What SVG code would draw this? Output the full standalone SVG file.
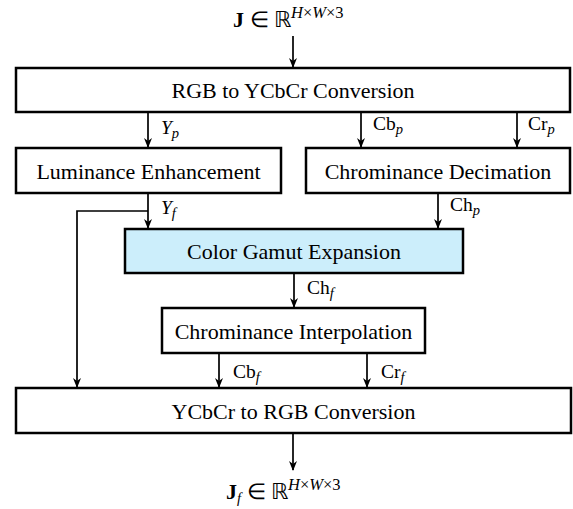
<svg xmlns="http://www.w3.org/2000/svg" width="573" height="509" viewBox="0 0 573 509">
<style>
.box{fill:#fff;stroke:#000;stroke-width:2.5}
.blue{fill:#CCEEFB}
.t{font-size:22px;fill:#000;text-anchor:middle}
.lb{font-size:19.5px;fill:#000}
.it{font-style:italic}
.sub{font-size:14.5px;font-style:italic}
.sup{font-size:16.5px}
.ln{fill:none;stroke:#000;stroke-width:1.7}
</style>
<defs>
<marker id="ah" markerWidth="10" markerHeight="12" refX="9" refY="5" orient="auto" markerUnits="userSpaceOnUse">
<path d="M0,1 L10,5 L0,9 L3,5 Z" fill="#000"/>
</marker>
</defs>
<rect width="573" height="509" fill="#fff"/>
<g id="connectors" font-family="Liberation Serif, serif">
<line class="ln" x1="293" y1="36" x2="293" y2="67" marker-end="url(#ah)"/>
<line class="ln" x1="148" y1="113" x2="148" y2="147" marker-end="url(#ah)"/>
<line class="ln" x1="361" y1="113" x2="361" y2="147" marker-end="url(#ah)"/>
<line class="ln" x1="517" y1="113" x2="517" y2="147" marker-end="url(#ah)"/>
<line class="ln" x1="148" y1="194" x2="148" y2="228" marker-end="url(#ah)"/>
<polyline class="ln" points="148,211 77,211 77,387" marker-end="url(#ah)"/>
<line class="ln" x1="438" y1="194" x2="438" y2="228" marker-end="url(#ah)"/>
<line class="ln" x1="294" y1="274" x2="294" y2="307" marker-end="url(#ah)"/>
<line class="ln" x1="219" y1="354" x2="219" y2="387" marker-end="url(#ah)"/>
<line class="ln" x1="367" y1="354" x2="367" y2="387" marker-end="url(#ah)"/>
<line class="ln" x1="293" y1="434" x2="293" y2="470" marker-end="url(#ah)"/>
<text class="lb" x="161" y="134"><tspan class="it">Y</tspan><tspan class="sub" dy="4">p</tspan></text>
<text class="lb" x="373" y="130">Cb<tspan class="sub" dy="4">p</tspan></text>
<text class="lb" x="528" y="130">Cr<tspan class="sub" dy="4">p</tspan></text>
<text class="lb" x="161" y="214"><tspan class="it">Y</tspan><tspan class="sub" dy="4">f</tspan></text>
<text class="lb" x="450" y="211">Ch<tspan class="sub" dy="4">p</tspan></text>
<text class="lb" x="307" y="294">Ch<tspan class="sub" dy="4">f</tspan></text>
<text class="lb" x="233" y="378">Cb<tspan class="sub" dy="4">f</tspan></text>
<text class="lb" x="381" y="378">Cr<tspan class="sub" dy="4">f</tspan></text>
</g>
<g id="input" font-family="Liberation Serif, serif">
<text class="lb" x="233" y="27" style="font-size:22px"><tspan font-weight="bold">J</tspan> ∈ ℝ<tspan dy="-9" class="sup it">H</tspan><tspan class="sup">×</tspan><tspan class="sup it">W</tspan><tspan class="sup">×3</tspan></text>
</g>
<g id="rgb2ycbcr" font-family="Liberation Serif, serif">
<rect class="box" x="16" y="68" width="554" height="44"/>
<text class="t" x="293" y="98">RGB to YCbCr Conversion</text>
</g>
<g id="luminance" font-family="Liberation Serif, serif">
<rect class="box" x="16" y="148" width="265" height="45"/>
<text class="t" x="148.5" y="178.5">Luminance Enhancement</text>
</g>
<g id="decimation" font-family="Liberation Serif, serif">
<rect class="box" x="306" y="148" width="264" height="45"/>
<text class="t" x="438" y="178.5">Chrominance Decimation</text>
</g>
<g id="gamut" font-family="Liberation Serif, serif">
<rect class="box blue" x="125" y="229" width="338" height="44"/>
<text class="t" x="294" y="259">Color Gamut Expansion</text>
</g>
<g id="interpolation" font-family="Liberation Serif, serif">
<rect class="box" x="162" y="308" width="263" height="45"/>
<text class="t" x="293.5" y="338.5">Chrominance Interpolation</text>
</g>
<g id="ycbcr2rgb" font-family="Liberation Serif, serif">
<rect class="box" x="16" y="388" width="555" height="45"/>
<text class="t" x="293.5" y="418.5">YCbCr to RGB Conversion</text>
</g>
<g id="output" font-family="Liberation Serif, serif">
<text class="lb" x="226" y="499" style="font-size:22px"><tspan font-weight="bold">J</tspan><tspan class="sub" dy="4">f</tspan><tspan dy="-4"> ∈ ℝ</tspan><tspan dy="-9" class="sup it">H</tspan><tspan class="sup">×</tspan><tspan class="sup it">W</tspan><tspan class="sup">×3</tspan></text>
</g>
</svg>
